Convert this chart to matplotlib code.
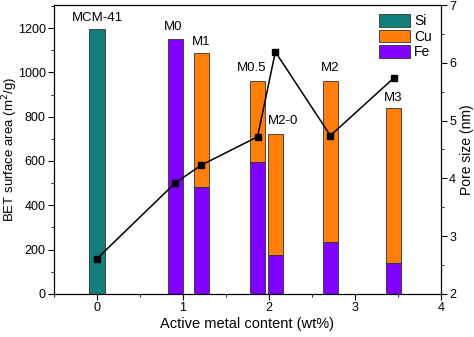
import matplotlib
matplotlib.use("Agg")
import matplotlib.pyplot as plt
from matplotlib.patches import Patch
from matplotlib.ticker import MultipleLocator

plt.rcParams['font.family'] = ['Liberation Sans', 'DejaVu Sans']

# sample labels and positions (wt% of active metal)
samples = ["MCM-41", "M0", "M1", "M0.5", "M2-0", "M2", "M3"]
metal = [0.0, 0.91, 1.215, 1.868, 2.075, 2.715, 3.455]
# BET surface area split by component (m2/g)
si_area = [1194, 0, 0, 0, 0, 0, 0]
fe_area = [0, 1150, 484, 595, 176, 236, 141]
cu_area = [0, 0, 605, 367, 546, 726, 697]
# pore size (nm)
pore = [2.61, 3.92, 4.23, 4.72, 6.19, 4.74, 5.74]
# label anchor positions
label_x = [0.0, 0.89, 1.215, 1.80, 2.16, 2.71, 3.45]
label_y = [1245, 1204, 1137, 1019, 781, 1019, 884]

c_si = "#127f7a"
c_cu = "#ff7f0a"
c_fe = "#7f00ff"
edge = "#333333"

fig = plt.figure(figsize=(4.74, 3.37), dpi=100)
ax = fig.add_axes([0.114, 0.128, 0.816, 0.857])
w = 0.175
ax.bar(metal, si_area, width=w, color=c_si, edgecolor=edge, linewidth=0.6)
ax.bar(metal, cu_area, width=w, bottom=fe_area, color=c_cu, edgecolor=edge, linewidth=0.6)
ax.bar(metal, fe_area, width=w, color=c_fe, edgecolor=edge, linewidth=0.6)
# hide zero-height bars
for p in ax.patches:
    if p.get_height() == 0:
        p.set_visible(False)

for name, lx, ly in zip(samples, label_x, label_y):
    ax.text(lx, ly, name, ha="center", va="center", fontsize=9.5)

ax.set_xlim(-0.5, 4)
ax.set_ylim(0, 1304)
ax.xaxis.set_major_locator(MultipleLocator(1))
ax.xaxis.set_minor_locator(MultipleLocator(0.5))
ax.yaxis.set_major_locator(MultipleLocator(200))
ax.yaxis.set_minor_locator(MultipleLocator(100))
ax.tick_params(which="both", direction="out", labelsize=9, top=False, pad=2)
ax.tick_params(which="major", length=4)
ax.tick_params(which="minor", length=2.5)
ax.set_xlabel("Active metal content (wt%)", fontsize=10.5, labelpad=2)
ax.set_ylabel("BET surface area (m$^2$/g)", fontsize=9.5)
ax.yaxis.set_label_coords(-0.088, 0.5)

ax2 = ax.twinx()
ax2.plot(metal, pore, color="black", marker="s", markersize=4.5, linewidth=1.1)
ax2.set_ylim(2, 7)
ax2.yaxis.set_major_locator(MultipleLocator(1))
ax2.yaxis.set_minor_locator(MultipleLocator(0.5))
ax2.tick_params(which="both", direction="out", labelsize=9, pad=2)
ax2.tick_params(which="major", length=4)
ax2.tick_params(which="minor", length=2.5)
ax2.set_ylabel("Pore size (nm)", fontsize=10)
ax2.yaxis.set_label_coords(1.05, 0.5)

handles = [Patch(facecolor=c, edgecolor=edge, linewidth=0.6) for c in (c_si, c_cu, c_fe)]
ax2.legend(handles, ["Si", "Cu", "Fe"], loc="upper right", frameon=False, fontsize=10,
           handlelength=2.2, handleheight=1.0, labelspacing=0.12,
           bbox_to_anchor=(1.0, 1.0), borderaxespad=0.25, handletextpad=0.3)

fig.savefig("out.png", dpi=100)
